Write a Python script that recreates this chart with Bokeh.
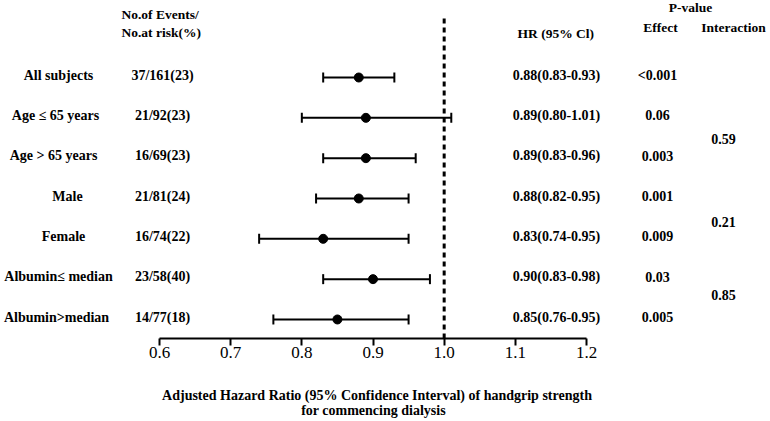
from bokeh.plotting import figure
from bokeh.models import Range1d, LinearAxis, FixedTicker, Whisker, ColumnDataSource, TeeHead
from bokeh.core.properties import value
from bokeh.embed import file_html
from bokeh.resources import INLINE

# ---------------- data ----------------
subgroups = ["All subjects", "Age \u2264 65 years", "Age > 65 years", "Male", "Female",
             "Albumin\u2264 median", "Albumin>median"]
events = ["37/161(23)", "21/92(23)", "16/69(23)", "21/81(24)", "16/74(22)", "23/58(40)", "14/77(18)"]
hr = [0.88, 0.89, 0.89, 0.88, 0.83, 0.90, 0.85]
ci_low = [0.83, 0.80, 0.83, 0.82, 0.74, 0.83, 0.76]
ci_high = [0.93, 1.01, 0.96, 0.95, 0.95, 0.98, 0.95]
p_effect = ["<0.001", "0.06", "0.003", "0.001", "0.009", "0.03", "0.005"]
p_interaction = ["0.59", "0.21", "0.85"]
tick_values = [0.6, 0.7, 0.8, 0.9, 1.0, 1.1, 1.2]
tick_labels = ["0.6", "0.7", "0.8", "0.9", "1.0", "1.1", "1.2"]
reference_hr = 1.0
x_title = ["Adjusted Hazard Ratio (95%  Confidence Interval) of  handgrip strength",
           "for commencing dialysis"]

# ---------------- layout ----------------
W, H = 770, 421
PXU = 711.67            # pixels per HR unit
X0 = 0.6 - 159 / PXU    # data x at canvas left
ROW = 40.33             # pixels per row
Y0 = -77 / ROW          # data y at canvas top


def cx(px):
    return X0 + px / PXU


def cy(py):
    return Y0 + py / ROW


rows = list(range(len(subgroups)))
AXIS_Y = cy(338)
interaction_y = [cy(138), cy(221), cy(294)]
label_px = [58, 55, 53, 67, 63, 58, 56]     # horizontal centres of the subgroup labels

p = figure(width=W, height=H, output_backend="svg", toolbar_location=None,
           x_axis_type=None, y_axis_type=None,
           x_range=Range1d(X0, X0 + W / PXU), y_range=Range1d(cy(H), Y0),
           min_border=0, min_border_left=0, min_border_right=0,
           min_border_top=0, min_border_bottom=0)
p.outline_line_color = None
p.background_fill_color = "white"
p.border_fill_color = "white"
p.xgrid.visible = False
p.ygrid.visible = False

FONT = value("Liberation Serif")


def txt(xs, ys, texts, size="14px", align="center"):
    p.text(x=xs, y=ys, text=texts, text_font=FONT, text_font_style="bold",
           text_font_size=size, text_align=align, text_baseline="middle",
           text_color="black")


# reference line
p.segment(x0=[reference_hr], y0=[cy(18)], x1=[reference_hr], y1=[AXIS_Y],
          line_color="black", line_width=3, line_dash="5 4")

# error bars
src = ColumnDataSource(dict(y=rows, lo=ci_low, hi=ci_high, hr=hr))
wh = Whisker(base="y", lower="lo", upper="hi", dimension="width", source=src,
             line_color="black", line_width=2,
             upper_head=TeeHead(size=10, line_width=2, line_color="black"),
             lower_head=TeeHead(size=10, line_width=2, line_color="black"))
p.add_layout(wh)
p.scatter(x="hr", y="y", source=src, size=9, color="black")

# columns of text
row_text_y = [r - 0.06 for r in rows]
txt([cx(v) for v in label_px], row_text_y, subgroups)
txt([cx(162)] * len(rows), row_text_y, events)
hr_text = [f"{h:.2f}({l:.2f}-{u:.2f})" for h, l, u in zip(hr, ci_low, ci_high)]
txt([cx(556)] * len(rows), row_text_y, hr_text)
txt([cx(657)] * len(rows), row_text_y, p_effect)
txt([cx(723)] * len(p_interaction), interaction_y, p_interaction)

# headers
txt([cx(121)] * 2, [cy(14), cy(32)], ["No.of Events/", "No.at risk(%)"], size="13.5px", align="left")
txt([cx(557)], [cy(33)], ["HR (95%  Cl)"], size="13.5px")
txt([cx(690)], [cy(7)], ["P-value"], size="13.5px")
txt([cx(660)], [cy(27)], ["Effect"], size="13.5px")
txt([cx(733)], [cy(27)], ["Interaction"], size="13.5px")

# x title
txt([cx(380), cx(373)], [cy(395), cy(410)], x_title, size="14px")

# axis
ax = LinearAxis(ticker=FixedTicker(ticks=tick_values), bounds=(tick_values[0], tick_values[-1]),
                fixed_location=AXIS_Y,
                major_label_overrides=dict(zip(tick_values, tick_labels)),
                axis_line_width=2, axis_line_color="black",
                major_tick_line_width=2, major_tick_line_color="black",
                major_tick_out=7, major_tick_in=0,
                minor_tick_line_color=None,
                major_label_text_font="Liberation Serif",
                major_label_text_font_size="17px",
                major_label_text_color="black",
                major_label_standoff=1)
p.add_layout(ax, "below")

open("out.html", "w").write(file_html(p, INLINE))
